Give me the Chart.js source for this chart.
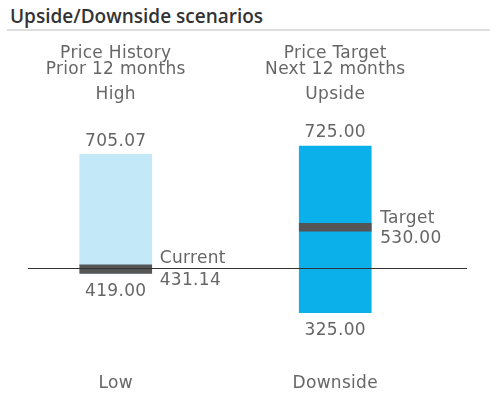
<!DOCTYPE html>
<html>
<head>
<meta charset="utf-8">
<script src="https://cdn.jsdelivr.net/npm/chart.js@4"></script>
<style>
  html, body { margin: 0; padding: 0; background: #fff; }
  #wrap { position: relative; width: 500px; height: 406px; }
  h1 { position: absolute; left: 10px; top: 3px; margin: 0; font: 600 19px/26px "Open Sans", sans-serif; color: #333; }
  #rule { position: absolute; left: 7px; top: 29px; width: 483px; height: 2px; background: #ddd; }
  canvas { position: absolute; left: 0; top: 0; }
</style>
</head>
<body>
<div id="wrap">
  <h1>Upside/Downside scenarios</h1>
  <div id="rule"></div>
  <canvas id="chart" width="500" height="406"></canvas>
</div>
<script>
const categories = ["Price History", "Price Target"];
const subtitles = ["Prior 12 months", "Next 12 months"];
const highNames = ["High", "Upside"];
const lowNames = ["Low", "Downside"];
const lows = [419.00, 325.00];
const highs = [705.07, 725.00];
const markerLows = [419.00, 520.50];
const markerHighs = [440.00, 539.50];
const currentPrice = 431.14;
const targetPrice = 530.00;

const font = '17px "DejaVu Sans", sans-serif';
const textColor = "#666";

const labelPlugin = {
  id: "labels",
  afterDatasetsDraw(chart) {
    const c = chart.ctx;
    const x = chart.scales.x;
    const y = chart.scales.y;
    c.save();

    // current price line
    const yc = Math.round(y.getPixelForValue(currentPrice)) + 0.5;
    c.strokeStyle = "#333";
    c.lineWidth = 1;
    c.beginPath();
    c.moveTo(28, yc);
    c.lineTo(467, yc);
    c.stroke();

    c.font = font;
    c.letterSpacing = "0.3px";
    c.fillStyle = textColor;
    c.textBaseline = "middle";
    c.textAlign = "center";
    categories.forEach((cat, i) => {
      const cx = x.getPixelForValue(i);
      c.fillText(cat, cx, 54);
      c.fillText(subtitles[i], cx, 70);
      c.fillText(highNames[i], cx, 95);
      c.fillText(lowNames[i], cx, 384);
      c.fillText(highs[i].toFixed(2), cx, y.getPixelForValue(highs[i]) - 13);
      c.fillText(lows[i].toFixed(2), cx, y.getPixelForValue(lows[i]) + 18);
    });

    c.textAlign = "left";
    const x0 = x.getPixelForValue(0) + 44;
    c.fillText("Current", x0, yc - 10);
    c.fillText(currentPrice.toFixed(2), x0, yc + 12);
    const x1 = x.getPixelForValue(1) + 45;
    const yt = y.getPixelForValue(targetPrice);
    c.fillText("Target", x1, yt - 9);
    c.fillText(targetPrice.toFixed(2), x1, yt + 11);
    c.restore();
  }
};

new Chart(document.getElementById("chart"), {
  type: "bar",
  data: {
    labels: categories,
    datasets: [
      {
        data: markerLows.map((v, i) => [v, markerHighs[i]]),
        backgroundColor: "#555",
        order: 0,
      },
      {
        data: lows.map((v, i) => [v, highs[i]]),
        backgroundColor: ["#c3e9f8", "#0bafe9"],
        order: 1,
      },
    ],
  },
  options: {
    responsive: false,
    animation: false,
    events: [],
    layout: { padding: { top: 121, bottom: 60, left: 6, right: 55 } },
    datasets: { bar: { grouped: false, barThickness: 72 } },
    plugins: { legend: { display: false }, tooltip: { enabled: false } },
    scales: {
      x: { display: false },
      y: { display: false, min: 245, max: 785 },
    },
  },
  plugins: [labelPlugin],
});
</script>
</body>
</html>
